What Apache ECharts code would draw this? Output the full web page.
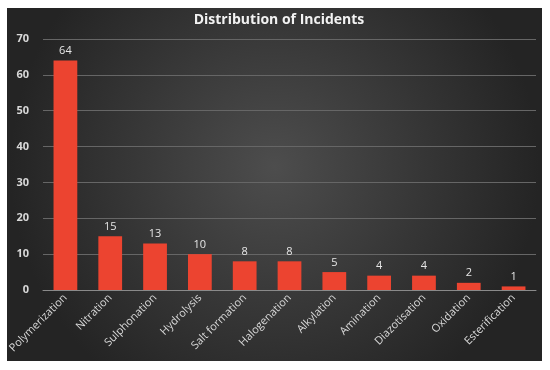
<!DOCTYPE html>
<html><head><meta charset="utf-8">
<script src="https://cdn.jsdelivr.net/npm/echarts@6/dist/echarts.min.js"></script>
<style>html,body{margin:0;padding:0;background:#fff}#c{width:550px;height:370px}</style>
</head><body><div id="c"></div>
<script>
const categories = ["Polymerization","Nitration","Sulphonation","Hydrolysis","Salt formation","Halogenation","Alkylation","Amination","Diazotisation","Oxidation","Esterification"];
const incidents = [64,15,13,10,8,8,5,4,4,2,1];
const yTicks = {min:0,max:70,interval:10};
const chart = echarts.init(document.getElementById('c'));
chart.setOption({
  backgroundColor:'#ffffff',
  animation:false,
  graphic:[{type:'rect',z:-10,silent:true,shape:{x:7,y:8,width:535,height:353},
    style:{fill:new echarts.graphic.RadialGradient(0.5,0.45,0.75,[{offset:0,color:'#4d4d4d'},{offset:1,color:'#242424'}])}}],
  title:{text:'Distribution of Incidents',left:274,textAlign:'center',top:8,
    textStyle:{color:'#f2f2f2',fontSize:14,fontWeight:'bold',fontFamily:'Open Sans'}},
  grid:{left:43,right:14,top:39,bottom:80},
  xAxis:{type:'category',data:categories,
    axisLine:{lineStyle:{color:'#8a8a8a',width:1}},axisTick:{show:false},
    axisLabel:{interval:0,rotate:45,color:'#d9d9d9',fontSize:11,fontFamily:'Open Sans',margin:6}},
  yAxis:{type:'value',min:yTicks.min,max:yTicks.max,interval:yTicks.interval,
    axisLine:{show:false},axisTick:{show:false},
    splitLine:{lineStyle:{color:'#666666',width:1}},
    axisLabel:{color:'#d9d9d9',fontSize:11,fontWeight:'bold',fontFamily:'Open Sans',margin:14}},
  series:[{type:'bar',data:incidents,barWidth:'53%',
    itemStyle:{color:'#ec4430'},
    label:{show:true,position:'top',color:'#e6e6e6',fontSize:11,fontFamily:'Open Sans',distance:4}}]
});
</script></body></html>
